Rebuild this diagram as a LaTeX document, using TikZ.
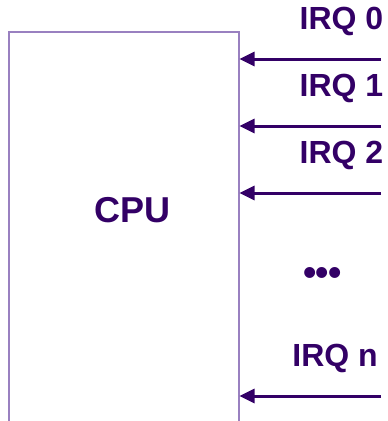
\documentclass[tikz,border=0pt]{standalone}
\usepackage{fontspec}
\setmainfont{Liberation Sans}
\usetikzlibrary{arrows.meta}
\definecolor{irqpurple}{HTML}{330066}
\definecolor{boxpurple}{HTML}{9980C0}
\begin{document}
\begin{tikzpicture}[x=1pt,y=-1pt,
  cpuedge/.style={draw=boxpurple,line width=1.5pt},
  irqline/.style={draw=irqpurple,line width=3pt,
    -{Triangle[length=15pt,width=14pt]}},
  irqlabel/.style={text=irqpurple,font=\fontsize{32}{36}\selectfont\bfseries,
    anchor=east,inner sep=0pt},
  cpulabel/.style={text=irqpurple,font=\fontsize{36}{42}\selectfont\bfseries,
    inner sep=0pt},
  dotslabel/.style={text=irqpurple,font=\fontsize{38}{42}\selectfont\bfseries,
    inner sep=0pt}]
  \useasboundingbox (0,0) rectangle (388,421);
  % CPU block, open at the bottom
  \draw[cpuedge] (9,421) -- (9,32) -- (239,32) -- (239,421);
  \node[cpulabel] (cpu) at (133,210) {CPU};
  % interrupt request lines
  \foreach \n/\y/\ly in {0/59/21.5,1/126/88,2/193/155} {
    \coordinate (src\n) at (381,\y);
    \coordinate (dst\n) at (239.5,\y);
    \draw[irqline] (src\n) -- (dst\n);
    \node[irqlabel] (lab\n) at (383.5,\ly) {IRQ \n};
  }
  \node[dotslabel] (dots) at (322.5,276.5) {•\kern-0.5pt•\kern-0.5pt•};
  \coordinate (srcn) at (381,396);
  \coordinate (dstn) at (239.5,396);
  \draw[irqline] (srcn) -- (dstn);
  \node[irqlabel] (labn) at (378,358) {IRQ n};
\end{tikzpicture}
\end{document}
